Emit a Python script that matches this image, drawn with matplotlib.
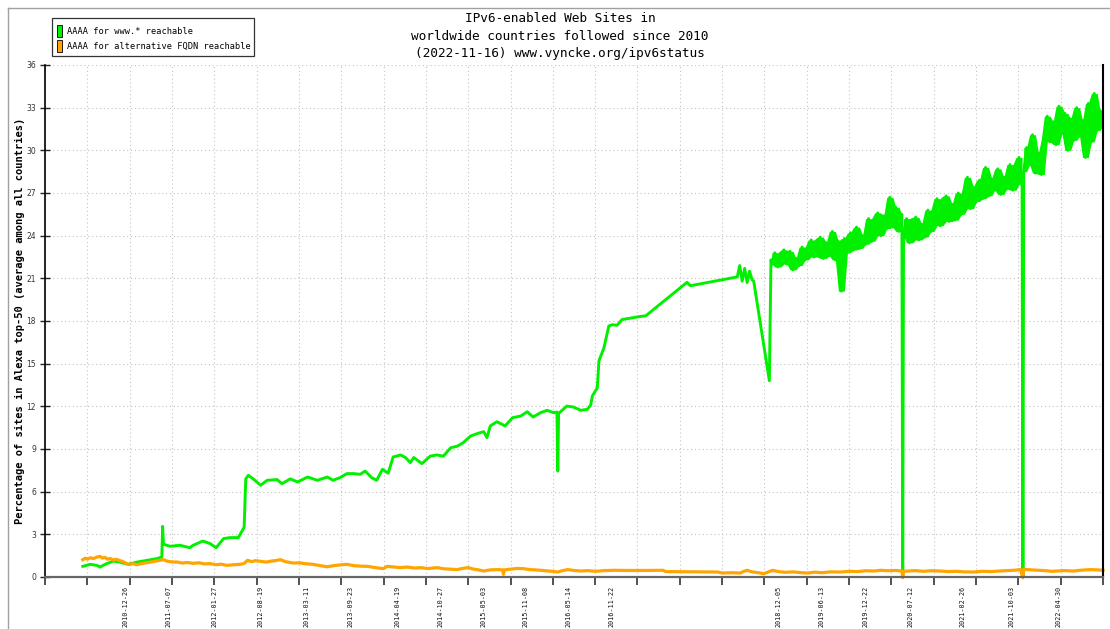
import datetime as dt
import numpy as np
import matplotlib
matplotlib.use("Agg")
import matplotlib.pyplot as plt
from matplotlib.patches import Rectangle
from matplotlib.lines import Line2D

## ------------------------------------------------------------------ ##
## data (x in decimal years, y in percent)
## ------------------------------------------------------------------ ##
title_lines = [
    "IPv6-enabled Web Sites in",
    "worldwide countries followed since 2010",
    "(2022-11-16) www.vyncke.org/ipv6status",
]
y_label = "Percentage of sites in Alexa top-50 (average among all countries)"
legend_labels = ["AAAA for www.* reachable", "AAAA for alternative FQDN reachable"]
x_first = "2010-01-05"
x_last = "2022-11-12"
date_labels = [
    "2010-12-26", "2011-07-07", "2012-01-27", "2012-08-19", "2013-03-11",
    "2013-09-23", "2014-04-19", "2014-10-27", "2015-05-03", "2015-11-08",
    "2016-05-14", "2016-11-22", "2018-12-05", "2019-06-13", "2019-12-22",
    "2020-07-12", "2021-02-26", "2021-10-03", "2022-04-30", "2022-11-12",
]

# AAAA for www.* : sparse part up to end of 2018
www_year = [
    2010.47, 2010.56, 2010.64, 2010.68, 2010.74, 2010.84, 2010.92, 2011.02,
    2011.13, 2011.25, 2011.37, 2011.43, 2011.44, 2011.45, 2011.53, 2011.65,
    2011.77, 2011.81, 2011.93, 2012.02, 2012.09, 2012.18, 2012.26, 2012.36,
    2012.42, 2012.43, 2012.45, 2012.48, 2012.54, 2012.63, 2012.71, 2012.83,
    2012.89, 2012.99, 2013.08, 2013.20, 2013.32, 2013.44, 2013.51, 2013.60,
    2013.68, 2013.76, 2013.84, 2013.90, 2013.98, 2014.04, 2014.11, 2014.18,
    2014.24, 2014.33, 2014.39, 2014.45, 2014.49, 2014.59, 2014.69, 2014.77,
    2014.85, 2014.94, 2015.02, 2015.09, 2015.18, 2015.26, 2015.34, 2015.38,
    2015.42, 2015.50, 2015.60, 2015.69, 2015.79, 2015.87, 2015.94, 2016.03,
    2016.11, 2016.19, 2016.23, 2016.24, 2016.25, 2016.35, 2016.43, 2016.52,
    2016.60, 2016.64, 2016.66, 2016.72, 2016.74, 2016.80, 2016.86, 2016.90,
    2016.96, 2017.02, 2017.22, 2017.31, 2017.81, 2017.85, 2018.42, 2018.45,
    2018.48, 2018.51, 2018.54, 2018.57, 2018.60, 2018.62, 2018.81, 2018.83,
]
www_pct = [
    0.75, 0.89, 0.82, 0.70, 0.89, 1.12, 1.05, 0.89,
    1.05, 1.17, 1.29, 1.40, 3.56, 2.30, 2.16, 2.23,
    2.06, 2.23, 2.53, 2.34, 2.06, 2.70, 2.77, 2.77,
    3.40, 3.50, 6.90, 7.15, 6.90, 6.45, 6.80, 6.85,
    6.56, 6.90, 6.68, 7.03, 6.80, 7.03, 6.80, 7.00,
    7.27, 7.27, 7.22, 7.45, 6.98, 6.80, 7.57, 7.30,
    8.44, 8.58, 8.40, 8.04, 8.40, 7.97, 8.50, 8.58,
    8.50, 9.09, 9.20, 9.44, 9.91, 10.08, 10.22, 9.80,
    10.62, 10.92, 10.62, 11.20, 11.32, 11.62, 11.25, 11.55,
    11.72, 11.55, 11.60, 7.45, 11.50, 12.02, 11.95, 11.72,
    11.79, 12.10, 12.73, 13.30, 15.20, 16.10, 17.65, 17.74,
    17.70, 18.10, 18.30, 18.37, 20.72, 20.48, 21.10, 21.90,
    20.80, 21.70, 20.70, 21.50, 20.90, 20.80, 13.80, 22.30,
]

# AAAA for www.* : dense daily part, one list per stretch between outages
www_late_span = [(2018.84, 2020.42), (2020.44, 2021.88), (2021.90, 2022.864)]
www_late_pct = [
    [22.0, 22.8, 21.8, 22.6, 23.0, 22.0, 22.9, 21.6, 22.4, 21.9, 23.2, 22.3,
     22.8, 23.7, 22.5, 23.4, 23.9, 22.4, 23.5, 22.6, 24.3, 22.3, 23.6, 20.1,
     23.8, 22.8, 24.2, 23.0, 24.6, 23.1, 24.0, 23.4, 25.2, 23.6, 24.7, 25.6,
     24.0, 25.4, 24.5, 26.7, 24.6, 26.0, 24.3, 25.5],
    [24.0, 25.2, 23.5, 24.6, 25.3, 23.7, 24.8, 23.9, 25.8, 24.3, 25.4, 26.6,
     24.7, 25.9, 26.8, 25.0, 26.2, 25.1, 27.0, 25.5, 26.3, 28.1, 25.9, 27.4,
     26.4, 27.9, 26.6, 28.8, 26.8, 28.0, 27.2, 28.7, 26.9, 28.1, 27.3, 29.0,
     27.2, 28.6, 29.5, 27.6],
    [28.5, 30.2, 29.0, 31.1, 28.4, 29.8, 28.3, 30.8, 32.4, 30.6, 32.0, 30.4,
     33.1, 31.2, 32.6, 30.0, 32.2, 30.7, 33.0, 31.0, 32.1, 29.5, 33.3, 30.6,
     34.0, 31.4, 32.8, 31.8],
]
www_outage = [2020.43, 2021.89]  # days where the measurement fell to 0 %

# AAAA for alternative FQDN
alt_year = [
    2010.47, 2010.50, 2010.53, 2010.56, 2010.60, 2010.64, 2010.68, 2010.71,
    2010.74, 2010.77, 2010.80, 2010.84, 2010.88, 2010.92, 2010.96, 2011.00,
    2011.04, 2011.08, 2011.12, 2011.17, 2011.22, 2011.27, 2011.32, 2011.38,
    2011.45, 2011.50, 2011.56, 2011.62, 2011.68, 2011.74, 2011.81, 2011.88,
    2011.95, 2012.02, 2012.09, 2012.15, 2012.22, 2012.30, 2012.38, 2012.43,
    2012.47, 2012.52, 2012.57, 2012.63, 2012.70, 2012.76, 2012.82, 2012.87,
    2012.93, 2013.03, 2013.10, 2013.18, 2013.27, 2013.35, 2013.44, 2013.52,
    2013.60, 2013.68, 2013.76, 2013.85, 2013.93, 2014.02, 2014.12, 2014.17,
    2014.25, 2014.33, 2014.41, 2014.50, 2014.58, 2014.66, 2014.72, 2014.78,
    2014.85, 2014.94, 2015.02, 2015.08, 2015.15, 2015.22, 2015.28, 2015.34,
    2015.42, 2015.51, 2015.57, 2015.58, 2015.59, 2015.66, 2015.74, 2015.82,
    2015.90, 2015.97, 2016.03, 2016.10, 2016.17, 2016.24, 2016.30, 2016.36,
    2016.44, 2016.52, 2016.60, 2016.70, 2016.80, 2016.92, 2017.10, 2017.30,
    2017.52, 2017.55, 2017.80, 2018.00, 2018.18, 2018.24, 2018.35, 2018.46,
    2018.50, 2018.54, 2018.60, 2018.68, 2018.74, 2018.80, 2018.85, 2018.92,
    2019.00, 2019.10, 2019.20, 2019.28, 2019.36, 2019.45, 2019.55, 2019.68,
    2019.78, 2019.88, 2019.98, 2020.08, 2020.16, 2020.25, 2020.35, 2020.42,
    2020.43, 2020.44, 2020.49, 2020.58, 2020.68, 2020.78, 2020.89, 2020.98,
    2021.08, 2021.18, 2021.29, 2021.40, 2021.50, 2021.60, 2021.70, 2021.80,
    2021.86, 2021.89, 2021.90, 2021.95, 2022.05, 2022.15, 2022.24, 2022.31,
    2022.40, 2022.50, 2022.60, 2022.71, 2022.80, 2022.864,
]
alt_pct = [
    1.22, 1.32, 1.26, 1.35, 1.30, 1.40, 1.45, 1.33,
    1.38, 1.25, 1.30, 1.20, 1.24, 1.15, 1.08, 0.95,
    0.88, 0.95, 0.86, 0.92, 0.98, 1.02, 1.08, 1.14,
    1.22, 1.10, 1.06, 1.05, 0.98, 1.02, 0.96, 1.00,
    0.92, 0.94, 0.86, 0.90, 0.82, 0.86, 0.89, 0.95,
    1.17, 1.08, 1.15, 1.10, 1.05, 1.12, 1.16, 1.22,
    1.08, 0.98, 1.00, 0.93, 0.89, 0.80, 0.72, 0.80,
    0.85, 0.89, 0.80, 0.76, 0.75, 0.66, 0.59, 0.75,
    0.70, 0.66, 0.70, 0.63, 0.66, 0.59, 0.63, 0.66,
    0.58, 0.55, 0.52, 0.60, 0.66, 0.55, 0.50, 0.42,
    0.50, 0.52, 0.50, 0.19, 0.50, 0.55, 0.60, 0.59,
    0.52, 0.50, 0.47, 0.44, 0.40, 0.35, 0.45, 0.52,
    0.46, 0.42, 0.45, 0.40, 0.45, 0.47, 0.46, 0.46,
    0.47, 0.38, 0.37, 0.36, 0.35, 0.28, 0.30, 0.28,
    0.40, 0.47, 0.36, 0.30, 0.23, 0.36, 0.47, 0.38,
    0.33, 0.36, 0.30, 0.28, 0.34, 0.30, 0.36, 0.35,
    0.40, 0.38, 0.44, 0.42, 0.47, 0.44, 0.46, 0.42,
    -0.05, 0.40, 0.42, 0.45, 0.40, 0.44, 0.42, 0.38,
    0.40, 0.36, 0.35, 0.40, 0.38, 0.42, 0.45, 0.48,
    0.52, -0.05, 0.55, 0.52, 0.48, 0.45, 0.40, 0.42,
    0.45, 0.42, 0.48, 0.52, 0.50, 0.47,
]


def decimal_year(s):
    d = dt.date.fromisoformat(s)
    start = dt.date(d.year, 1, 1)
    n = (dt.date(d.year + 1, 1, 1) - start).days
    return d.year + (d - start).days / n


# join the sparse and the dense daily part of the www.* series
www_x = list(www_year)
www_y = list(www_pct)
late_x = []
for k, ((t0, t1), vals) in enumerate(zip(www_late_span, www_late_pct)):
    xs = np.linspace(t0, t1, len(vals))
    late_x.append(xs)
    www_x += list(xs)
    www_y += vals
    if k < len(www_outage):
        www_x.append(www_outage[k])
        www_y.append(0.0)

## ------------------------------------------------------------------ ##
## figure
## ------------------------------------------------------------------ ##
W, H = 1110, 629
mono = "DejaVu Sans Mono"
green = "#00f000"
orange = "#ffa500"

fig = plt.figure(figsize=(W / 100, H / 100), dpi=100)
ax = fig.add_axes([45 / W, 1 - 577 / H, (1103 - 45) / W, (577 - 65) / H])

# the daily samples are denser than a pixel: shade the local min..max so the
# noisy stretch reads as a solid band like in the original
for xs, vals in zip(late_x, www_late_pct):
    vp = np.pad(np.array(vals), 1, mode="edge")
    lo = np.minimum(np.minimum(vp[:-2], vp[1:-1]), vp[2:])
    hi = np.maximum(np.maximum(vp[:-2], vp[1:-1]), vp[2:])
    ax.fill_between(xs, lo, hi, color=green, lw=0)
ax.plot(www_x, www_y, color=green, lw=2.1)
ax.plot(alt_year, alt_pct, color=orange, lw=2.3, clip_on=False)

x0, x1 = decimal_year(x_first), decimal_year(x_last)
ax.set_xlim(x0, x1)
ax.set_ylim(0, 36)

# regular ticks + grid, labels placed at their own dates
ax.set_xticks(np.linspace(x0, x1, 26))
ax.set_xticklabels([])
ax.set_xticks([decimal_year(s) for s in date_labels], minor=True)
ax.set_xticklabels(date_labels, minor=True, rotation=90, fontsize=4.9,
                   family=mono, va="top", ha="center", color="#111111")
ax.tick_params(axis="x", which="minor", length=0, pad=6)
ax.tick_params(axis="x", which="major", direction="out", length=6,
               width=1.2, color="#333333")
ax.set_yticks(np.arange(0, 37, 3))
ax.tick_params(axis="y", direction="inout", length=7, width=1,
               labelsize=5.5, color="#222222", labelcolor="#333333", pad=3)

ax.grid(True, which="major", color="#c4c4c4", linestyle=(0, (1, 2.5)), lw=0.8)
ax.set_axisbelow(True)

ax.spines["top"].set_visible(False)
ax.spines["left"].set_color("black")
ax.spines["left"].set_linewidth(1.2)
ax.spines["right"].set_color("black")
ax.spines["right"].set_linewidth(1.5)
ax.spines["bottom"].set_color("#666666")
ax.spines["bottom"].set_linewidth(1.6)

# y-axis label
fig.text(20 / W, 1 - 321 / H, y_label, rotation=90, ha="center", va="center",
         family=mono, fontweight="bold", fontsize=7.5)

# title
for i, line in enumerate(title_lines):
    fig.text(560 / W, 1 - (19 + 17 * i) / H, line, ha="center", va="center",
             family=mono, fontsize=9.2)

# legend box
fig.add_artist(Rectangle((52 / W, 1 - 56 / H), 202 / W, 38 / H,
                         transform=fig.transFigure, facecolor="white",
                         edgecolor="#333333", lw=0.9))
for i, (lab, col) in enumerate(zip(legend_labels, [green, orange])):
    yc = 31 + 15 * i
    fig.add_artist(Rectangle((57 / W, 1 - (yc + 6) / H), 5 / W, 12 / H,
                             transform=fig.transFigure, facecolor=col,
                             edgecolor="black", lw=0.6))
    fig.text(67 / W, 1 - yc / H, lab, ha="left", va="center",
             family=mono, fontsize=6.2)

# outer frame (left and top edges are the only ones inside the image)
fig.add_artist(Line2D([8 / W, 8 / W], [0, 1 - 8 / H], transform=fig.transFigure,
                      color="#a0a0a0", lw=1))
fig.add_artist(Line2D([8 / W, 1], [1 - 8 / H, 1 - 8 / H], transform=fig.transFigure,
                      color="#a0a0a0", lw=1))

fig.savefig("out.png", dpi=100)
